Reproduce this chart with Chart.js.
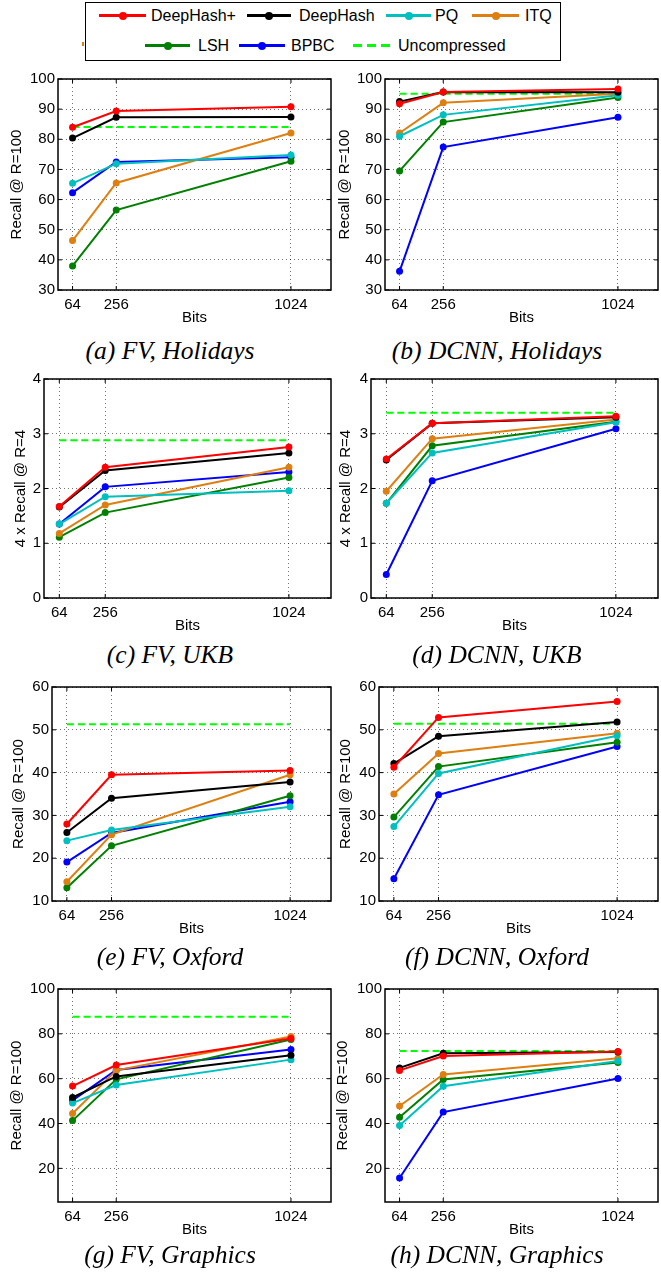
<!DOCTYPE html>
<html>
<head>
<meta charset="utf-8">
<script src="https://cdn.jsdelivr.net/npm/chart.js@4.4.0/dist/chart.umd.min.js"></script>
<style>
  body { margin: 0; background: #fff; width: 661px; height: 1274px; position: relative; overflow: hidden; font-family: "Liberation Sans", Arial, sans-serif; }
  canvas { position: absolute; }
  .cap { position: absolute; width: 400px; text-align: center; font: italic 25.5px "Liberation Serif", "Times New Roman", serif; line-height: 26px; color: #000; white-space: nowrap; }
  #legendBox { position: absolute; left: 85px; top: 2px; width: 474px; height: 57px; border: 1px solid #000; }
  .lgLine { position: absolute; height: 3px; }
  .lgDot { position: absolute; width: 8px; height: 8px; border-radius: 50%; }
  .lgText { position: absolute; font-size: 16px; line-height: 20px; color: #000; white-space: nowrap; }
</style>
</head>
<body>
<div id="legendBox"></div>
<script>
// ===== DATA =====
const bits = [64, 256, 1024];
const methods = ['DeepHash+', 'DeepHash', 'PQ', 'ITQ', 'LSH', 'BPBC'];
const colors = ['#ff0000', '#000000', '#00bfbf', '#de7f12', '#008000', '#0000ff'];
const uncColor = '#00ff00';

// rows follow methods order: DeepHash+, DeepHash, PQ, ITQ, LSH, BPBC
const fvHolidays = [[84.0, 89.4, 90.8], [80.4, 87.3, 87.4], [65.4, 71.9, 74.8], [46.4, 65.5, 82.1], [38.0, 56.5, 72.7], [62.3, 72.5, 74.0]];
const fvHolidaysUnc = 84.1;
const dcnnHolidays = [[91.8, 95.7, 96.7], [92.5, 95.7, 95.6], [81.0, 88.1, 94.6], [82.1, 92.1, 95.1], [69.5, 85.7, 93.9], [36.2, 77.4, 87.3]];
const dcnnHolidaysUnc = 95.1;
const fvUkb = [[1.67, 2.39, 2.76], [1.66, 2.33, 2.65], [1.35, 1.85, 1.96], [1.18, 1.70, 2.39], [1.11, 1.56, 2.20], [1.35, 2.03, 2.30]];
const fvUkbUnc = 2.88;
const dcnnUkb = [[2.54, 3.19, 3.32], [2.52, 3.19, 3.30], [1.73, 2.65, 3.21], [1.95, 2.91, 3.26], [1.73, 2.78, 3.22], [0.43, 2.14, 3.09]];
const dcnnUkbUnc = 3.385;
const fvOxford = [[28.0, 39.5, 40.5], [26.0, 34.0, 37.8], [24.1, 26.6, 32.0], [14.5, 25.5, 39.5], [13.1, 22.9, 34.6], [19.1, 25.9, 33.2]];
const fvOxfordUnc = 51.3;
const dcnnOxford = [[41.25, 52.9, 56.6], [42.1, 48.5, 51.8], [27.4, 39.8, 48.6], [35.0, 44.45, 49.2], [29.6, 41.4, 47.1], [15.2, 34.8, 46.1]];
const dcnnOxfordUnc = 51.4;
const fvGraphics = [[56.7, 66.1, 77.9], [51.6, 61.0, 70.4], [49.1, 57.2, 68.5], [44.5, 63.7, 78.8], [41.3, 59.7, 77.5], [50.3, 63.9, 73.0]];
const fvGraphicsUnc = 87.6;
const dcnnGraphics = [[63.7, 70.1, 72.1], [64.8, 71.3, 71.9], [39.1, 56.6, 67.9], [47.8, 61.9, 69.1], [42.8, 59.6, 67.2], [15.7, 45.1, 60.1]];
const dcnnGraphicsUnc = 72.4;

const yTicksHolidays = [30, 40, 50, 60, 70, 80, 90, 100];
const yTicksUkb = [0, 1, 2, 3, 4];
const yTicksOxford = [10, 20, 30, 40, 50, 60];
const yTicksGraphics = [20, 40, 60, 80, 100];

// ===== LAYOUT =====
const FONT = '"Liberation Sans", Arial, sans-serif';
const panels = [
  { data: fvHolidays,   unc: fvHolidaysUnc,   ticks: yTicksHolidays, min: 30, max: 100, yTitle: 'Recall @ R=100',   cap: '(a) FV, Holidays',   col: 0,   box: [58, 331, 79, 290],    titleX: 17,  capX: 170, capY: 354 },
  { data: dcnnHolidays, unc: dcnnHolidaysUnc, ticks: yTicksHolidays, min: 30, max: 100, yTitle: 'Recall @ R=100',   cap: '(b) DCNN, Holidays', col: 330, box: [385, 658, 79, 290],   titleX: 345, capX: 497, capY: 354 },
  { data: fvUkb,        unc: fvUkbUnc,        ticks: yTicksUkb,      min: 0,  max: 4,   yTitle: '4 x Recall @ R=4', cap: '(c) FV, UKB',        col: 0,   box: [44, 331, 379, 598],   titleX: 21,  capX: 170, capY: 658 },
  { data: dcnnUkb,      unc: dcnnUkbUnc,      ticks: yTicksUkb,      min: 0,  max: 4,   yTitle: '4 x Recall @ R=4', cap: '(d) DCNN, UKB',      col: 330, box: [371, 658, 379, 598],  titleX: 346, capX: 497, capY: 658 },
  { data: fvOxford,     unc: fvOxfordUnc,     ticks: yTicksOxford,   min: 10, max: 60,  yTitle: 'Recall @ R=100',   cap: '(e) FV, Oxford',     col: 0,   box: [52, 331, 687, 901],   titleX: 19,  capX: 170, capY: 960 },
  { data: dcnnOxford,   unc: dcnnOxfordUnc,   ticks: yTicksOxford,   min: 10, max: 60,  yTitle: 'Recall @ R=100',   cap: '(f) DCNN, Oxford',   col: 330, box: [379, 658, 687, 901],  titleX: 346, capX: 497, capY: 960 },
  { data: fvGraphics,   unc: fvGraphicsUnc,   ticks: yTicksGraphics, min: 5,  max: 100, yTitle: 'Recall @ R=100',   cap: '(g) FV, Graphics',   col: 0,   box: [58, 331, 989, 1202],  titleX: 17,  capX: 170, capY: 1258 },
  { data: dcnnGraphics, unc: dcnnGraphicsUnc, ticks: yTicksGraphics, min: 5,  max: 100, yTitle: 'Recall @ R=100',   cap: '(h) DCNN, Graphics', col: 330, box: [385, 658, 989, 1202], titleX: 343, capX: 497, capY: 1258 }
];

// MATLAB-style box with inward ticks
const framePlugin = {
  id: 'frame',
  afterDraw(chart) {
    const { ctx, chartArea: a, scales: { x, y } } = chart;
    ctx.save();
    ctx.strokeStyle = '#000';
    ctx.lineWidth = 1;
    ctx.beginPath();
    x.ticks.forEach(t => {
      const px = x.getPixelForValue(t.value);
      ctx.moveTo(px, a.bottom); ctx.lineTo(px, a.bottom - 4);
      ctx.moveTo(px, a.top); ctx.lineTo(px, a.top + 4);
    });
    y.ticks.forEach(t => {
      const py = y.getPixelForValue(t.value);
      ctx.moveTo(a.left, py); ctx.lineTo(a.left + 4, py);
      ctx.moveTo(a.right, py); ctx.lineTo(a.right - 4, py);
    });
    ctx.stroke();
    ctx.lineWidth = 1.5;
    ctx.strokeRect(a.left, a.top, a.right - a.left, a.bottom - a.top);
    ctx.restore();
  }
};

const PAD_TOP = 14, X_AXIS_H = 42, PAD_RIGHT = 4;

panels.forEach(p => {
  const [x0, x1, y0, y1] = p.box;
  const w = x1 - p.col + PAD_RIGHT, h = y1 - y0 + PAD_TOP + X_AXIS_H;
  const cv = document.createElement('canvas');
  cv.width = w; cv.height = h;
  cv.style.left = p.col + 'px'; cv.style.top = (y0 - PAD_TOP) + 'px';
  cv.style.width = w + 'px'; cv.style.height = h + 'px';
  document.body.appendChild(cv);

  const datasets = methods.map((m, i) => ({
    label: m,
    data: bits.map((b, j) => ({ x: b, y: p.data[i][j] })),
    borderColor: colors[i], backgroundColor: colors[i],
    pointBackgroundColor: colors[i], pointBorderColor: colors[i],
    borderWidth: 2, pointRadius: 3.5, pointBorderWidth: 0, tension: 0
  }));
  datasets.push({
    label: 'Uncompressed',
    data: [{ x: bits[0], y: p.unc }, { x: bits[bits.length - 1], y: p.unc }],
    borderColor: uncColor, backgroundColor: uncColor,
    borderDash: [7, 4], borderWidth: 2, pointRadius: 0
  });

  new Chart(cv, {
    type: 'line',
    data: { datasets },
    options: {
      responsive: false, animation: false,
      layout: { padding: { top: PAD_TOP, right: PAD_RIGHT, left: 0, bottom: 0 } },
      plugins: { legend: { display: false }, tooltip: { enabled: false } },
      scales: {
        x: {
          type: 'linear', min: 0, max: 1200,
          afterBuildTicks: s => { s.ticks = bits.map(v => ({ value: v })); },
          afterFit: s => { s.height = X_AXIS_H; },
          ticks: { color: '#000', font: { size: 15, family: FONT }, padding: 6, maxRotation: 0, autoSkip: false, callback: v => String(v) },
          grid: { color: 'rgba(0,0,0,0.55)', lineWidth: 1, drawTicks: false },
          border: { display: false, dash: [1, 3] },
          title: { display: true, text: 'Bits', color: '#000', font: { size: 15, family: FONT }, padding: { top: 0, bottom: 5 } }
        },
        y: {
          min: p.min, max: p.max,
          afterBuildTicks: s => { s.ticks = p.ticks.map(v => ({ value: v })); },
          afterFit: s => { s.width = x0 - p.col; },
          ticks: { color: '#000', font: { size: 15, family: FONT }, padding: 3, autoSkip: false, callback: v => String(v) },
          grid: { color: 'rgba(0,0,0,0.55)', lineWidth: 1, drawTicks: false },
          border: { display: false, dash: [1, 3] },
          title: { display: true, text: p.yTitle, color: '#000', font: { size: 15, family: FONT }, padding: { top: p.titleX - p.col - 9, bottom: 0 } }
        }
      }
    },
    plugins: [framePlugin]
  });

  const cap = document.createElement('div');
  cap.className = 'cap';
  cap.textContent = p.cap;
  cap.style.left = (p.capX - 200) + 'px';
  cap.style.top = (p.capY - 16) + 'px';
  document.body.appendChild(cap);
});

// ===== LEGEND =====
// [line start, line end, text left, row centre]
const legendPos = [
  [99, 146, 151, 15.5], [247, 291, 299, 15.5], [386, 431, 435, 15.5], [472, 519, 525, 15.5],
  [145, 190, 198, 45.5], [239, 285, 291, 45.5], [353, 391, 398, 45.5]
];
const legendLabels = methods.concat(['Uncompressed']);
legendLabels.forEach((name, i) => {
  const [l0, l1, tx, cy] = legendPos[i];
  const line = document.createElement('div');
  line.className = 'lgLine';
  line.style.left = l0 + 'px'; line.style.width = (l1 - l0) + 'px'; line.style.top = (cy - 1.5) + 'px';
  if (i < methods.length) {
    line.style.background = colors[i];
    const dot = document.createElement('div');
    dot.className = 'lgDot';
    dot.style.background = colors[i];
    dot.style.left = ((l0 + l1) / 2 - 4) + 'px'; dot.style.top = (cy - 4) + 'px';
    document.body.appendChild(line);
    document.body.appendChild(dot);
  } else {
    line.style.background = 'repeating-linear-gradient(to right,' + uncColor + ' 0 9px, transparent 9px 14px)';
    document.body.appendChild(line);
  }
  const t = document.createElement('div');
  t.className = 'lgText';
  t.textContent = name;
  t.style.left = tx + 'px'; t.style.top = (cy - 10) + 'px';
  document.body.appendChild(t);
});

// small stray ITQ mark left of the legend box
const stray = document.createElement('div');
stray.style.cssText = 'position:absolute;left:82px;top:42px;width:1.5px;height:4px;background:' + colors[3];
document.body.appendChild(stray);
</script>
</body>
</html>
